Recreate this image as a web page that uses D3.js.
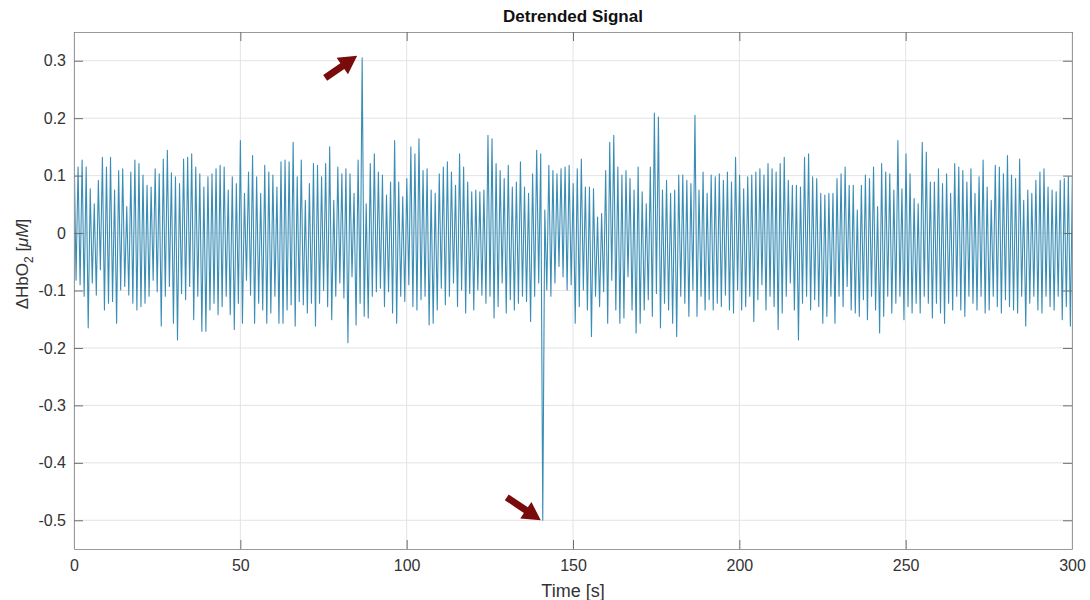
<!DOCTYPE html>
<html>
<head>
<meta charset="utf-8">
<script src="https://cdn.jsdelivr.net/npm/d3@7"></script>
<style>
  body { margin: 0; background: #fff; }
  svg { font-family: "Liberation Sans", Arial, sans-serif; }
</style>
</head>
<body>
<svg id="chart" width="1090" height="600"></svg>
<script>
// one pulse cycle per peak/trough pair
const period = 1.22

const peaks = [
  0.164, 0.115, 0.127, 0.115, 0.077, 0.051, 0.092, 0.132, 0.115, 0.132,
  0.075, 0.109, 0.112, 0.046, 0.106, 0.127, 0.121, 0.101, 0.083, 0.080,
  0.112, 0.103, 0.129, 0.144, 0.105, 0.098, 0.086, 0.129, 0.132, 0.138,
  0.115, 0.103, 0.080, 0.098, 0.103, 0.112, 0.118, 0.115, 0.075, 0.098,
  0.086, 0.161, 0.069, 0.106, 0.135, 0.098, 0.069, 0.118, 0.106, 0.101,
  0.080, 0.124, 0.127, 0.124, 0.158, 0.098, 0.127, 0.057, 0.086, 0.121,
  0.118, 0.098,
  0.121, 0.150, 0.057, 0.115, 0.103, 0.112, 0.103, 0.069, 0.127, 0.305,
  0.051, 0.121, 0.138, 0.106, 0.101, 0.066, 0.089, 0.161, 0.089, 0.063,
  0.095, 0.150, 0.138, 0.164, 0.109, 0.112, 0.075, 0.069,
  0.103, 0.115, 0.124, 0.106, 0.083, 0.138, 0.115, 0.089, 0.072, 0.075,
  0.072, 0.075, 0.170, 0.164, 0.121, 0.109, 0.095, 0.118, 0.080, 0.089,
  0.124, 0.080, 0.069, 0.103, 0.144, 0.138, 0.040, 0.118, 0.109, 0.103,
  0.112, 0.115, 0.118,
  0.086, 0.112, 0.129, 0.080, 0.080, 0.077, 0.028, 0.034, 0.109, 0.158,
  0.170, 0.115, 0.101, 0.109, 0.095, 0.075, 0.115, 0.072, 0.051, 0.115,
  0.209, 0.202, 0.075, 0.092, 0.069, 0.075, 0.101, 0.101, 0.092, 0.086,
  0.205, 0.075, 0.106, 0.069, 0.101, 0.098, 0.103, 0.092, 0.106, 0.089,
  0.132, 0.101, 0.077, 0.098, 0.101, 0.106, 0.112, 0.101, 0.121, 0.112,
  0.106, 0.121, 0.132, 0.092, 0.083, 0.083, 0.080, 0.132, 0.138, 0.098,
  0.095, 0.069,
  0.066, 0.069, 0.069, 0.095, 0.103, 0.115, 0.083, 0.083, 0.040, 0.083,
  0.101, 0.095, 0.115, 0.046, 0.121, 0.106, 0.103, 0.075, 0.161, 0.077,
  0.138, 0.103, 0.060, 0.051, 0.158, 0.141, 0.089, 0.089, 0.112, 0.086,
  0.103, 0.069, 0.121, 0.115, 0.109, 0.089, 0.112, 0.069, 0.098, 0.127,
  0.080, 0.057, 0.118, 0.115, 0.103, 0.135, 0.101, 0.095, 0.129, 0.057,
  0.075, 0.069, 0.092, 0.106, 0.112, 0.080, 0.075, 0.072, 0.092, 0.095,
  0.098, 0.098,
]

const troughs = [
  -0.082, -0.090, -0.110, -0.165, -0.087, -0.108, -0.064, -0.134, -0.122, -0.119,
  -0.157, -0.099, -0.093, -0.108, -0.122, -0.134, -0.128, -0.122, -0.110, -0.082,
  -0.102, -0.162, -0.110, -0.093, -0.157, -0.186, -0.105, -0.116, -0.093, -0.151,
  -0.110, -0.171, -0.171, -0.134, -0.122, -0.142, -0.128, -0.110, -0.142, -0.168,
  -0.122, -0.157, -0.082, -0.108, -0.157, -0.122, -0.134, -0.157, -0.139, -0.110,
  -0.157, -0.157, -0.134, -0.125, -0.162, -0.119, -0.125, -0.139, -0.122, -0.162,
  -0.122, -0.100,
  -0.128, -0.151, -0.110, -0.087, -0.113, -0.191, -0.076, -0.160, -0.122, -0.145,
  -0.148, -0.110, -0.102, -0.096, -0.128, -0.102, -0.139, -0.157, -0.110, -0.119,
  -0.090, -0.128, -0.134, -0.116, -0.110, -0.160, -0.157, -0.134, -0.096, -0.125,
  -0.110, -0.087, -0.128, -0.099, -0.139, -0.105, -0.134, -0.099, -0.108, -0.122,
  -0.110, -0.148, -0.128, -0.087, -0.139, -0.116, -0.134, -0.122, -0.110, -0.119,
  -0.154, -0.110, -0.087, -0.500, -0.099, -0.110, -0.087, -0.058, -0.076, -0.099,
  -0.090,
  -0.157, -0.128, -0.099, -0.134, -0.180, -0.110, -0.128, -0.102, -0.157, -0.082,
  -0.134, -0.157, -0.148, -0.076, -0.134, -0.174, -0.157, -0.134, -0.116, -0.145,
  -0.105, -0.165, -0.122, -0.134, -0.157, -0.180, -0.110, -0.122, -0.145, -0.099,
  -0.145, -0.110, -0.134, -0.116, -0.134, -0.122, -0.128, -0.108, -0.134, -0.139,
  -0.099, -0.134, -0.128, -0.110, -0.154, -0.116, -0.090, -0.134, -0.110, -0.128,
  -0.168, -0.139, -0.110, -0.087, -0.134, -0.186, -0.122, -0.110, -0.134, -0.116,
  -0.128, -0.157,
  -0.145, -0.110, -0.157, -0.110, -0.128, -0.093, -0.134, -0.139, -0.145, -0.116,
  -0.151, -0.110, -0.134, -0.174, -0.145, -0.110, -0.139, -0.122, -0.110, -0.151,
  -0.128, -0.139, -0.122, -0.139, -0.110, -0.122, -0.148, -0.122, -0.139, -0.157,
  -0.122, -0.134, -0.110, -0.134, -0.145, -0.110, -0.122, -0.134, -0.110, -0.139,
  -0.134, -0.110, -0.128, -0.139, -0.116, -0.128, -0.134, -0.139, -0.110, -0.162,
  -0.122, -0.110, -0.134, -0.139, -0.110, -0.128, -0.134, -0.110, -0.151, -0.128,
  -0.162, -0.122,
]

const xTicks = [0, 50, 100, 150, 200, 250, 300]
const yTicks = [-0.5, -0.4, -0.3, -0.2, -0.1, 0, 0.1, 0.2, 0.3]

const width = 1090
const height = 600
const margin = { top: 32, right: 18, bottom: 51, left: 74 }

const signal = []
peaks.forEach((p, i) => {
  signal.push({ t: i * period, v: p })
  signal.push({ t: (i + 0.5) * period, v: troughs[i] })
})

const svg = d3.select('#chart')

const x = d3.scaleLinear().domain([0, 300]).range([margin.left, width - margin.right])
const y = d3.scaleLinear().domain([-0.55, 0.35]).range([height - margin.bottom, margin.top])

// plain hyphen minus like the original figure
const fmt = (d) => String(d)

svg.append('defs').append('clipPath').attr('id', 'plot-clip')
  .append('rect')
  .attr('x', x(0)).attr('y', y(0.35))
  .attr('width', x(300) - x(0)).attr('height', y(-0.55) - y(0.35))

// grid
const grid = svg.append('g').attr('stroke', '#e3e3e3').attr('stroke-width', 1)
grid.selectAll('.gx').data(xTicks).join('line')
  .attr('x1', (d) => x(d)).attr('x2', (d) => x(d))
  .attr('y1', y(0.35)).attr('y2', y(-0.55))
grid.selectAll('.gy').data(yTicks).join('line')
  .attr('x1', x(0)).attr('x2', x(300))
  .attr('y1', (d) => y(d)).attr('y2', (d) => y(d))

// signal
svg.append('path')
  .datum(signal)
  .attr('clip-path', 'url(#plot-clip)')
  .attr('fill', 'none')
  .attr('stroke', '#3a8db5')
  .attr('stroke-width', 1.1)
  .attr('stroke-linejoin', 'round')
  .attr('d', d3.line().x((d) => x(d.t)).y((d) => y(d.v)))

// axes, matlab style box with inward ticks
const tickLen = 9
const axisStyle = (g) => {
  g.select('.domain').attr('stroke', '#9a9a9a')
  g.selectAll('.tick line').attr('stroke', '#6e6e6e')
  g.selectAll('.tick text').attr('fill', '#333').attr('font-size', 16)
}
svg.append('g')
  .attr('transform', `translate(0,${y(-0.55)})`)
  .call(d3.axisBottom(x).tickValues(xTicks).tickFormat(fmt).tickSizeInner(-tickLen).tickSizeOuter(0).tickPadding(11))
  .call(axisStyle)
svg.append('g')
  .attr('transform', `translate(0,${y(0.35)})`)
  .call(d3.axisTop(x).tickValues(xTicks).tickSizeInner(-tickLen).tickSizeOuter(0).tickFormat(''))
  .call(axisStyle)
svg.append('g')
  .attr('transform', `translate(${x(0)},0)`)
  .call(d3.axisLeft(y).tickValues(yTicks).tickFormat(fmt).tickSizeInner(-tickLen).tickSizeOuter(0).tickPadding(8))
  .call(axisStyle)
svg.append('g')
  .attr('transform', `translate(${x(300)},0)`)
  .call(d3.axisRight(y).tickValues(yTicks).tickSizeInner(-tickLen).tickSizeOuter(0).tickFormat(''))
  .call(axisStyle)

// labels
svg.append('text')
  .attr('x', (x(0) + x(300)) / 2).attr('y', 22)
  .attr('text-anchor', 'middle')
  .attr('font-size', 17).attr('font-weight', 'bold').attr('fill', '#111')
  .text('Detrended Signal')

svg.append('text')
  .attr('x', (x(0) + x(300)) / 2).attr('y', 597)
  .attr('text-anchor', 'middle')
  .attr('font-size', 18).attr('fill', '#333')
  .text('Time [s]')

const yLabel = svg.append('text')
  .attr('transform', `translate(28,264) rotate(-90)`)
  .attr('text-anchor', 'middle')
  .attr('font-size', 17).attr('fill', '#333')
yLabel.append('tspan').text('\u0394HbO')
yLabel.append('tspan').attr('font-size', 12).attr('dy', 5).text('2')
yLabel.append('tspan').attr('dy', -5).text(' [')
yLabel.append('tspan').attr('font-style', 'italic').text('\u03bcM')
yLabel.append('tspan').text(']')

// arrows pointing at the two artefacts
const spikeUp = d3.greatest(signal, (d) => d.v)
const spikeDown = d3.least(signal, (d) => d.v)

const arrow = (tipX, tipY, dx, dy) => {
  const len = Math.hypot(dx, dy)
  const ux = dx / len, uy = dy / len
  const nx = -uy, ny = ux
  const head = 18, headW = 10, shaft = 3.5
  const bx = tipX - ux * head, by = tipY - uy * head
  const tx = tipX - ux * len, ty = tipY - uy * len
  const pts = [
    [tipX, tipY],
    [bx + nx * headW, by + ny * headW],
    [bx + nx * shaft, by + ny * shaft],
    [tx + nx * shaft, ty + ny * shaft],
    [tx - nx * shaft, ty - ny * shaft],
    [bx - nx * shaft, by - ny * shaft],
    [bx - nx * headW, by - ny * headW],
  ]
  svg.append('path')
    .attr('d', 'M' + pts.map((p) => p.join(',')).join('L') + 'Z')
    .attr('fill', '#7a0b0b')
}
arrow(x(spikeUp.t) - 5, y(spikeUp.v) - 2, 32, -22)
arrow(x(spikeDown.t) - 2, y(spikeDown.v), 34, 23)
</script>
</body>
</html>
